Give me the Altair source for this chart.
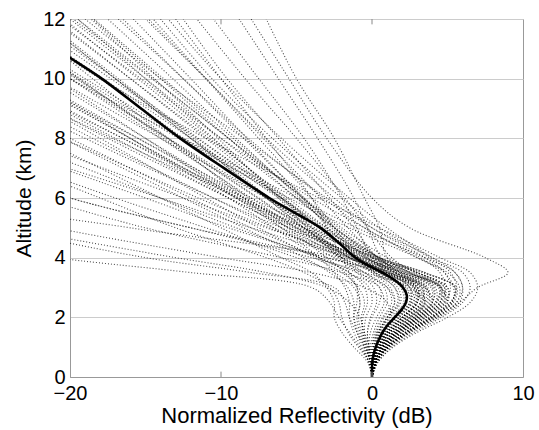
import altair as alt
import pandas as pd

# altitude levels (km) at which each normalized profile is read
alts = [0, 0.5, 1, 1.5, 2, 2.5, 3, 3.5, 4, 5, 6, 8, 10, 12]

# individual normalized reflectivity profiles (dB) at the levels above
profiles = [
    [0, -0.2, -0.8, -1.5, -2.2, -2.8, -4.0, -12, -21, -35, -45, -60, -70, -80],
    [0, -0.1, -0.5, -1.0, -1.5, -1.8, -2.5, -8, -15, -25, -35, -50, -60, -70],
    [0, 0.1, 0.2, 0.6, 1.2, 1.0, -0.5, -4, -10, -21, -30, -45, -55, -65],
    [0, 0.0, -0.2, -0.3, 0.0, 0.5, 0.5, -2, -6, -15, -22, -35, -45, -55],
    [0, 0.2, 0.7, 1.6, 2.8, 3.5, 2.5, -0.5, -4, -12, -20, -32, -42, -52],
    [0, 0.3, 1.1, 2.4, 4.0, 5.0, 4.5, 2.0, -1.5, -8, -14, -26, -36, -46],
    [0, -0.3, -1.2, -2.0, -2.5, -2.5, -3.0, -4.0, -6, -10, -14, -22, -30, -38],
    [0, 0.1, 0.4, 1.0, 2.0, 3.0, 2.8, 1.0, -1.5, -6, -10.5, -19, -27, -35],
    [0, 0.2, 0.8, 1.8, 3.2, 4.5, 4.8, 3.0, 0.0, -4.5, -8.5, -16.5, -24.5, -32],
    [0, -0.1, -0.4, -0.6, -0.6, -0.3, -0.5, -1.5, -3.5, -6.5, -9.5, -16, -22.5, -29],
    [0, 0.0, 0.1, 0.4, 1.0, 1.8, 1.5, 0.0, -2.0, -5.5, -9.0, -16, -23, -30],
    [0, 0.3, 1.0, 2.2, 3.8, 5.2, 5.5, 3.5, 0.5, -3.5, -7, -14, -21, -28],
    [0, 0.1, 0.5, 1.3, 2.5, 3.5, 3.0, 1.0, -1.0, -4.5, -7.5, -13.5, -19.5, -25.5],
    [0, -0.2, -0.7, -1.2, -1.5, -1.5, -1.8, -2.5, -3.5, -6, -8.5, -13.5, -18.5, -23.5],
    [0, 0.2, 0.6, 1.5, 2.8, 4.0, 4.0, 2.0, -0.5, -4, -7, -12.5, -18, -23.5],
    [0, 0.0, 0.2, 0.5, 1.2, 2.2, 2.0, 0.5, -1.5, -4.5, -7, -12, -17, -22],
    [0, 0.4, 1.4, 3.0, 5.0, 6.5, 7.0, 6.5, 4.5, 0.5, -3.5, -11, -18, -24],
    [0, 0.1, 0.3, 0.8, 1.6, 2.5, 2.2, 0.5, -1.0, -3.5, -6, -11, -16, -21],
    [0, -0.1, -0.2, -0.1, 0.3, 0.8, 0.5, -0.8, -2.0, -4.0, -6.0, -10.5, -15, -19.5],
    [0, 0.2, 0.7, 1.7, 3.0, 4.2, 4.2, 2.5, 0.5, -2.5, -5, -10, -15, -20],
    [0, 0.3, 1.0, 2.2, 3.8, 5.0, 5.0, 3.0, 0.5, -2.5, -5, -9.5, -14, -18.5],
    [0, 0.1, 0.4, 1.0, 2.0, 3.0, 3.0, 1.5, 0.0, -2.5, -4.5, -8.5, -12.5, -16.5],
    [0, 0.0, 0.0, 0.3, 0.8, 1.5, 1.2, 0.0, -1.0, -2.5, -4.0, -7.5, -11, -14.5],
    [0, 0.2, 0.9, 2.0, 3.5, 4.8, 5.2, 4.8, 3.5, 0.0, -2.5, -7.0, -11, -15],
    [0, 0.4, 1.3, 2.8, 4.6, 6.0, 6.5, 6.0, 4.0, 1.0, -1.5, -6.0, -10, -13.5],
    [0, 0.1, 0.3, 0.7, 1.5, 2.5, 2.5, 1.0, 0.0, -1.0, -2.0, -4.5, -7.5, -10.5],
    [0, 0.3, 1.1, 2.4, 4.2, 5.8, 7.0, 9.0, 7.5, 2.5, 0.0, -3.0, -5.5, -8.0],
    [0, 0.2, 0.8, 1.8, 3.2, 4.5, 4.5, 2.5, 1.0, 0.5, -0.5, -2.5, -5.0, -7.0],
    [0, -0.2, -0.6, -1.0, -1.2, -1.0, -1.0, -1.5, -2.0, -3.0, -4.0, -7.0, -10, -13],
    [0, 0.1, 0.5, 1.2, 2.3, 3.2, 2.8, 0.5, -3.0, -12, -20, -32, -44, -56],
    [0, 0.2, 0.6, 1.4, 2.5, 3.5, 3.5, 1.5, -1.0, -7.0, -12.5, -23, -33, -43],
    [0, -0.1, -0.3, -0.5, -0.4, 0.0, -0.2, -1.5, -3.5, -8, -12, -20, -28, -36],
    [0, 0.1, 0.4, 1.0, 2.0, 2.8, 2.5, 1.0, -1.0, -5.0, -8.5, -15.5, -22.5, -29.5],
    [0, 0.3, 1.0, 2.3, 4.0, 5.3, 5.5, 3.5, 0.5, -3.0, -6.0, -12.5, -19, -25.5],
    [0, -0.2, -0.9, -1.6, -2.0, -2.2, -2.8, -4.5, -7, -13, -18, -28, -38, -48],
    [0, 0.0, 0.1, 0.4, 1.0, 1.5, 1.0, -1.0, -3.5, -9, -14, -24, -34, -44],
    [0, 0.2, 0.7, 1.6, 3.0, 4.2, 4.5, 2.5, -0.5, -5.5, -9.5, -17.5, -25, -32.5],
    [0, 0.1, 0.3, 0.9, 1.8, 2.6, 2.3, 0.5, -1.5, -5.0, -8.0, -14, -20, -26],
    [0, 0.0, -0.1, 0.1, 0.5, 1.0, 0.8, -0.5, -2.0, -4.5, -7.0, -12, -17, -22],
    [0, 0.2, 0.8, 1.9, 3.4, 4.6, 4.8, 3.0, 1.0, -2.0, -4.5, -9.5, -14.5, -19.5],
    [0, 0.3, 1.2, 2.6, 4.4, 5.8, 6.0, 5.5, 4.0, 0.0, -3.0, -8.5, -14, -19],
    [0, 0.1, 0.5, 1.2, 2.2, 3.2, 3.2, 1.5, -0.5, -3.5, -6, -11.5, -17, -22.5],
    [0, -0.1, -0.4, -0.8, -1.0, -0.8, -1.2, -2.5, -5.0, -11, -17, -28, -39, -50],
    [0, 0.2, 0.6, 1.5, 2.7, 3.8, 3.6, 1.5, -2.0, -16, -28, -40, -50, -60],
    [0, 0.0, -0.2, -0.5, -0.8, -1.5, -3.0, -7, -13, -24, -34, -50, -60, -70],
    [0, 0.2, 0.7, 1.7, 3.0, 4.0, 3.5, 1.0, -3.0, -9.5, -15, -26, -36, -46],
    [0, 0.3, 1.1, 2.5, 4.3, 5.6, 6.0, 5.5, 3.5, -1.0, -5.0, -12.5, -20, -27],
    [0, 0.1, 0.4, 1.1, 2.1, 3.0, 3.0, 1.2, -1.2, -5.5, -9.5, -17, -24.5, -32],
    [0, 0.2, 0.9, 2.0, 3.6, 4.8, 4.6, 2.2, -0.8, -5.0, -9.0, -16.5, -24, -31],
    [0, -0.1, -0.3, -0.6, -0.7, -0.5, -0.9, -2.0, -3.8, -7.5, -11, -18, -25, -32],
    [0, 0.3, 1.0, 2.3, 4.0, 5.4, 5.6, 3.3, 0.2, -4.0, -8.0, -15.5, -23, -30.5],
    [0, 0.1, 0.3, 0.8, 1.6, 2.3, 2.0, 0.2, -2.0, -6.5, -10.5, -18.5, -26, -33],
    [0, 0.2, 0.6, 1.4, 2.6, 3.7, 3.7, 1.8, -0.8, -4.8, -8.4, -15, -21.5, -28],
    [0, 0.0, 0.0, 0.2, 0.7, 1.3, 1.0, -0.5, -2.5, -6.0, -9.0, -15, -21, -27],
    [0, 0.2, 0.8, 1.8, 3.3, 4.5, 4.6, 2.6, 0.0, -3.8, -7.0, -13.5, -20, -26.5],
    [0, 0.1, 0.4, 1.0, 2.0, 2.9, 2.7, 0.9, -1.2, -4.6, -7.6, -13.6, -19.6, -25.6],
    [0, 0.3, 1.1, 2.5, 4.2, 5.6, 5.8, 5.0, 3.0, -1.5, -5.5, -12.8, -19.3, -25.8],
    [0, -0.1, -0.4, -0.7, -0.9, -0.8, -1.0, -1.8, -3.0, -5.6, -8.2, -13.8, -19.4, -25],
    [0, 0.1, 0.5, 1.2, 2.3, 3.3, 3.3, 1.6, -0.4, -3.5, -6.2, -12, -17.8, -23.6],
    [0, 0.2, 0.7, 1.7, 3.1, 4.3, 4.4, 2.4, 0.0, -3.2, -6.0, -11.6, -17.3, -23],
    [0, 0.0, 0.2, 0.5, 1.1, 1.9, 1.7, 0.2, -1.5, -4.2, -6.8, -11.8, -16.8, -21.8],
    [0, 0.2, 0.6, 1.5, 2.8, 3.9, 3.9, 2.0, -0.3, -3.0, -5.6, -10.8, -16, -21.2],
    [0, 0.1, 0.3, 0.8, 1.7, 2.6, 2.5, 0.8, -0.9, -3.5, -5.8, -10.6, -15.5, -20.4],
    [0, 0.3, 1.0, 2.3, 4.0, 5.3, 5.4, 4.8, 3.0, -0.5, -4.0, -10.0, -15.3, -20.6],
    [0, -0.1, -0.2, -0.3, -0.1, 0.3, 0.1, -1.0, -2.2, -4.3, -6.2, -10.2, -14.4, -18.6],
    [0, 0.2, 0.7, 1.6, 2.9, 4.0, 4.1, 2.2, 0.2, -2.4, -4.6, -9.2, -13.8, -18.4],
    [0, 0.1, 0.4, 1.0, 2.0, 2.9, 2.9, 1.2, -0.3, -2.7, -4.8, -9.0, -13.2, -17.5],
    [0, 0.2, 0.8, 1.9, 3.4, 4.7, 4.9, 4.5, 3.2, -0.5, -3.2, -8.2, -12.5, -16.8],
    [0, 0.0, 0.1, 0.4, 1.0, 1.7, 1.5, 0.2, -0.9, -2.9, -4.6, -8.3, -12.0, -15.8],
    [0, 0.1, 0.5, 1.2, 2.3, 3.3, 3.4, 1.8, 0.4, -1.6, -3.4, -7.2, -11.0, -14.8],
    [0, 0.3, 1.0, 2.2, 3.9, 5.2, 5.6, 5.2, 3.8, 0.5, -2.0, -6.6, -10.6, -14.0],
    [0, 0.1, 0.3, 0.9, 1.8, 2.7, 2.8, 1.3, 0.3, -1.2, -2.8, -6.2, -9.6, -12.5],
    [0, 0.2, 0.7, 1.7, 3.1, 4.3, 4.6, 2.8, 1.3, -0.3, -1.8, -5.0, -8.4, -11.6],
    [0, 0.1, 0.4, 1.1, 2.1, 3.0, 3.1, 1.6, 0.6, -0.3, -1.2, -3.6, -6.2, -8.8],
    [0, 0.2, 0.6, 1.4, 2.6, 3.6, 3.6, 1.9, 0.4, -2.2, -4.6, -9.5, -14.6, -19.8],
    [0, 0.1, 0.3, 0.7, 1.4, 2.1, 1.9, 0.5, -1.4, -5.2, -8.8, -16.0, -23.2, -30.4],
    [0, 0.2, 0.9, 2.0, 3.6, 4.9, 5.0, 3.0, 0.3, -4.5, -8.8, -17.2, -25.5, -34],
    [0, -0.1, -0.5, -0.9, -1.2, -1.2, -1.6, -2.8, -4.5, -8.5, -12.5, -20.5, -28.5, -36.5],
    [0, 0.1, 0.5, 1.2, 2.4, 3.4, 3.3, 1.2, -1.6, -6.8, -11.5, -20.5, -29.5, -38],
]

# mean profile (thick line)
mean_alt = [0, 0.25, 0.5, 0.75, 1, 1.25, 1.5, 1.75, 2, 2.25, 2.5, 2.75, 3, 3.25,
            3.5, 3.75, 4, 4.5, 5, 5.5, 6, 7, 8, 9, 10, 10.7, 11]
mean_val = [0, 0.0, 0.02, 0.1, 0.25, 0.45, 0.7, 1.05, 1.5, 1.95, 2.25, 2.3, 2.05, 1.5,
            0.7, -0.3, -1.1, -2.2, -3.4, -5.1, -6.8, -9.8, -12.7, -15.3, -17.9, -20, -20.9]

x_ticks = [-20, -10, 0, 10]
y_ticks = [0, 2, 4, 6, 8, 10, 12]
x_min, x_max = -20, 10
y_min, y_max = 0, 12

rows = []
for i, p in enumerate(profiles):
    for a, v in zip(alts, p):
        rows.append({"profile": i, "alt": a, "val": v})
df = pd.DataFrame(rows)
mdf = pd.DataFrame({"alt": mean_alt, "val": mean_val})

FONT = "Liberation Sans"

x_scale = alt.Scale(domain=[x_min, x_max], nice=False, zero=False)
y_scale = alt.Scale(domain=[y_min, y_max], nice=False)

x_enc = alt.X(
    "val:Q", scale=x_scale,
    axis=alt.Axis(values=x_ticks, title="Normalized Reflectivity (dB)", grid=False,
                  labelFontSize=20, titleFontSize=22, labelPadding=6, titlePadding=2,
                  tickSize=0, domainColor="#999999", labelColor="black",
                  titleColor="black", titleFontWeight="normal", labelFont=FONT,
                  titleFont=FONT, labelFlush=False),
)
y_enc = alt.Y(
    "alt:Q", scale=y_scale,
    axis=alt.Axis(values=y_ticks, title="Altitude (km)", grid=True, gridColor="#cccccc",
                  gridWidth=1, labelFontSize=20, titleFontSize=21, labelPadding=5,
                  titlePadding=8, tickSize=0, domainColor="#999999", labelColor="black",
                  titleColor="black", titleFontWeight="normal", labelFont=FONT,
                  titleFont=FONT, labelFlush=False),
)

prof_layer = alt.Chart(df).mark_line(
    clip=True, strokeDash=[1, 2], strokeWidth=1.1, color="black", opacity=0.7,
    interpolate="catmull-rom",
).encode(x=x_enc, y=y_enc, detail="profile:N", order="alt:Q")

mean_layer = alt.Chart(mdf).mark_line(
    clip=True, strokeWidth=2.6, color="black", interpolate="catmull-rom",
).encode(x="val:Q", y="alt:Q", order="alt:Q")

# inward tick marks on bottom and top edges
tick_df = pd.DataFrame({"t": x_ticks[1:-1]})
bottom_ticks = alt.Chart(tick_df).mark_rule(color="#888888", strokeWidth=1).encode(
    x=alt.X("t:Q", scale=x_scale),
    y=alt.datum(y_min, scale=y_scale), y2=alt.datum(y_min + 0.18),
)
top_ticks = alt.Chart(tick_df).mark_rule(color="#888888", strokeWidth=1).encode(
    x=alt.X("t:Q", scale=x_scale),
    y=alt.datum(y_max, scale=y_scale), y2=alt.datum(y_max - 0.18),
)

chart = (
    alt.layer(prof_layer, mean_layer, bottom_ticks, top_ticks)
    .properties(width=453, height=358, autosize="none",
                padding={"left": 70, "top": 19, "right": 16, "bottom": 53},
                background="white")
    .configure_view(stroke="#999999", strokeWidth=1)
)

chart.save("out.html", embed_options={"renderer": "svg", "actions": False})
